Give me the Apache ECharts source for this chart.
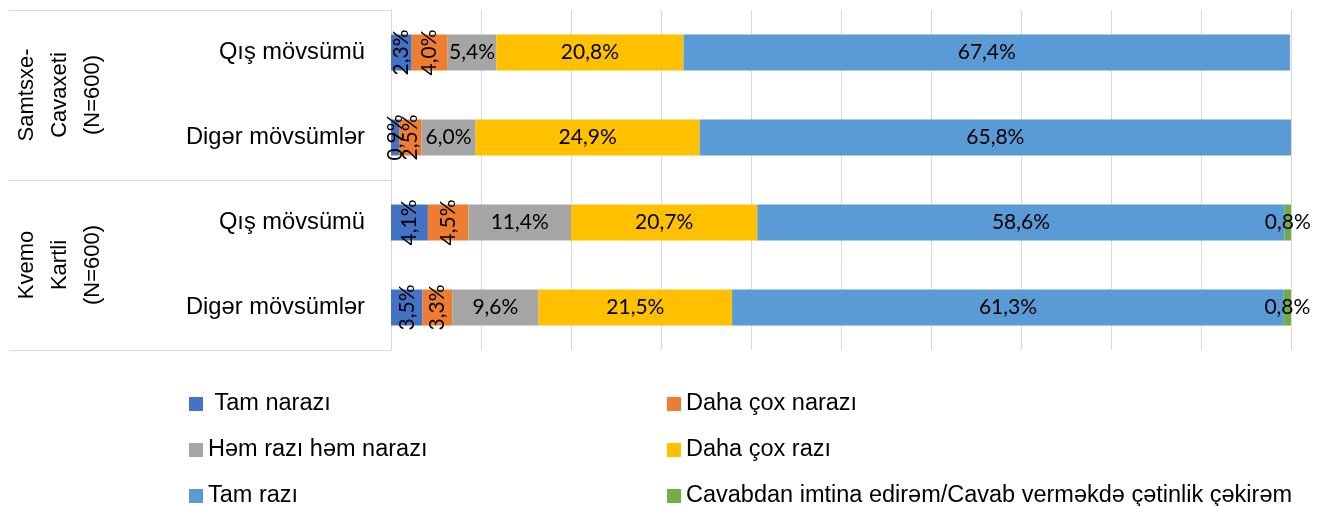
<!DOCTYPE html>
<html>
<head>
<meta charset="utf-8">
<script src="https://cdn.jsdelivr.net/npm/echarts@6/dist/echarts.min.js"></script>
<style>
  html, body { margin: 0; padding: 0; background: #fff; }
  #chart { width: 1325px; height: 506px; }
</style>
</head>
<body>
<div id="chart"></div>
<script>
  // rows, top to bottom
  const rowLabels = ['Qış mövsümü', 'Digər mövsümlər', 'Qış mövsümü', 'Digər mövsümlər'];
  const groupLabels = ['Samtsxe-\nCavaxeti\n(N=600)', 'Kvemo\nKartli\n(N=600)'];
  const seriesNames = [
    ' Tam narazı',
    'Daha çox narazı',
    'Həm razı həm narazı',
    'Daha çox razı',
    'Tam razı',
    'Cavabdan imtina edirəm/Cavab verməkdə çətinlik çəkirəm',
  ];
  const tamNarazi = [2.3, 0.9, 4.1, 3.5];
  const dahaCoxNarazi = [4.0, 2.5, 4.5, 3.3];
  const hemRaziHemNarazi = [5.4, 6.0, 11.4, 9.6];
  const dahaCoxRazi = [20.8, 24.9, 20.7, 21.5];
  const tamRazi = [67.4, 65.8, 58.6, 61.3];
  const cavabdanImtina = [0, 0, 0.8, 0.8];

  const values = [tamNarazi, dahaCoxNarazi, hemRaziHemNarazi, dahaCoxRazi, tamRazi, cavabdanImtina];
  const colors = ['#4472C4', '#ED7D31', '#A5A5A5', '#FFC000', '#5B9BD5', '#70AD47'];
  const rotated = [true, true, false, false, false, false];

  const font = 'Liberation Sans';
  const fmt = (p) => (p.value ? p.value.toFixed(1).replace('.', ',') + '%' : '');

  const chart = echarts.init(document.getElementById('chart'));

  const series = values.map((data, i) => ({
    name: seriesNames[i],
    type: 'bar',
    stack: 'total',
    barWidth: 36,
    data: data,
    itemStyle: { color: colors[i] },
    label: {
      show: true,
      position: 'inside',
      rotate: rotated[i] ? 90 : 0,
      formatter: fmt,
      color: '#000',
      fontFamily: 'Lato',
      fontSize: 21,
    },
    emphasis: { disabled: true },
  }));

  // two columns of three, like the original legend
  const legendBase = {
    orient: 'vertical',
    top: 392,
    height: 130,
    padding: 0,
    icon: 'rect',
    itemWidth: 14,
    itemHeight: 14,
    itemGap: 22,
    selectedMode: false,
    textStyle: { fontFamily: font, fontSize: 23.5, color: '#000' },
  };

  chart.setOption({
    animation: false,
    grid: {
      left: 391,
      right: 34,
      top: 10,
      bottom: 156,
      containLabel: false,
      outerBoundsMode: 'none',
    },
    legend: [
      Object.assign({}, legendBase, {
        left: 189,
        data: [seriesNames[0], seriesNames[2], seriesNames[4]],
      }),
      Object.assign({}, legendBase, {
        left: 667,
        data: [seriesNames[1], seriesNames[3], seriesNames[5]],
      }),
    ],
    xAxis: {
      type: 'value',
      min: 0,
      max: 100,
      interval: 10,
      axisLabel: { show: false },
      axisLine: { show: false },
      axisTick: { show: false },
      splitLine: { show: true, lineStyle: { color: '#d9d9d9', width: 1 } },
    },
    yAxis: [
      {
        type: 'category',
        inverse: true,
        position: 'left',
        data: rowLabels,
        axisLine: { show: true, lineStyle: { color: '#d9d9d9' } },
        axisTick: { show: false },
        axisLabel: {
          margin: 26,
          interval: 0,
          color: '#000',
          fontFamily: font,
          fontSize: 23.7,
        },
      },
      {
        type: 'category',
        inverse: true,
        position: 'left',
        data: groupLabels,
        axisLine: { show: false },
        axisTick: {
          show: true,
          interval: 0,
          length: 382,
          lineStyle: { color: '#d9d9d9' },
        },
        axisLabel: {
          rotate: 90,
          margin: 282,
          interval: 0,
          color: '#000',
          fontFamily: font,
          fontSize: 22,
          lineHeight: 33,
        },
        splitLine: { show: false },
      },
    ],
    series: series,
  });
</script>
</body>
</html>
